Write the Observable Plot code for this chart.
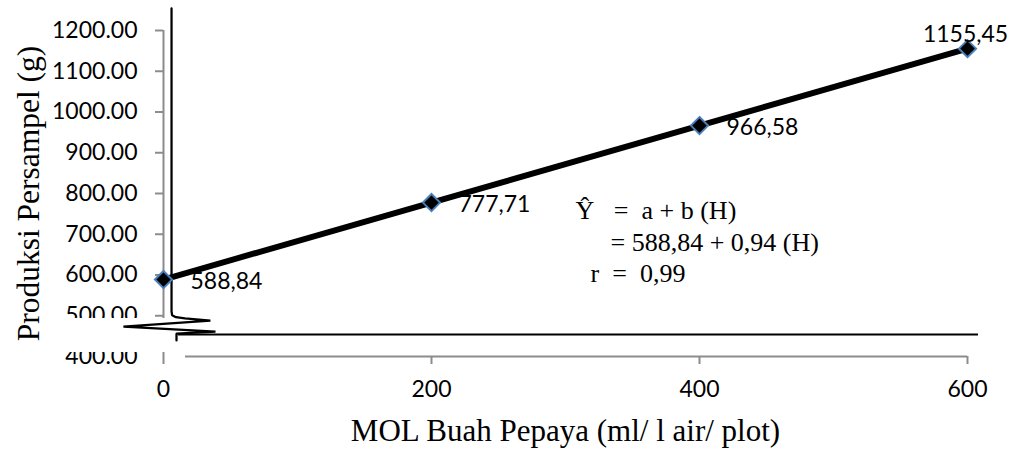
<!DOCTYPE html>
<html>
<head>
<meta charset="utf-8">
<script src="https://cdn.jsdelivr.net/npm/d3@7"></script>
<script src="https://cdn.jsdelivr.net/npm/@observablehq/plot@0.6"></script>
<style>
  html, body { margin: 0; padding: 0; background: #fff; }
  #chart svg { display: block; overflow: visible; }
</style>
</head>
<body>
<div id="chart"></div>
<script>
// ---- data ----
const doses = [0, 200, 400, 600];                       // MOL Buah Pepaya (ml/ l air/ plot)
const production = [588.84, 777.71, 966.58, 1155.45];   // Produksi Persampel (g)
const pointLabels = ["588,84", "777,71", "966,58", "1155,45"];
const xTicks = [0, 200, 400, 600];
const yTicks = [400, 500, 600, 700, 800, 900, 1000, 1100, 1200];
const equationLines = ["Ŷ\u00a0\u00a0 =\u00a0 a + b (H)", "= 588,84 + 0,94 (H)", "r\u00a0 =\u00a0 0,99"];
const xTitle = "MOL Buah Pepaya (ml/ l air/ plot)";
const yTitle = "Produksi Persampel (g)";

// ---- annotation / decoration geometry (data units) ----
const eqX = [307.5, 333.6, 318.7];
const eqY = [758.3, 679.8, 603.7];
const breakX = [6.0, 6.0, 6.4, 9.3, 16.0, 35.0, -29.9, 38.8, 9.7, 9.7];
const breakY = [1254, 511, 501.5, 496.5, 493.5, 488.3, 473.6, 461.3, 456.4, 439.3];

const points = doses.map((x, i) => ({x, y: production[i], label: pointLabels[i]}));
const breakPath = breakX.map((x, i) => ({x, y: breakY[i]}));
const eq = equationLines.map((t, i) => ({t, x: eqX[i], y: eqY[i]}));

const gray = "#8c8c8c";
const sans = "Lato, 'Open Sans', sans-serif";
const serif = "'Liberation Serif', 'DejaVu Serif', serif";

const chart = Plot.plot({
  width: 1016,
  height: 450,
  marginLeft: 163,
  marginRight: 49,
  marginTop: 30,
  marginBottom: 94,
  x: {domain: [0, 600], label: null},
  y: {domain: [400, 1200], label: null},
  style: {fontFamily: sans, background: "white", color: "black"},
  marks: [
    // axis lines
    Plot.ruleX([0], {y1: 400, y2: 1200, stroke: gray, strokeWidth: 2}),
    Plot.ruleY([400], {x1: 16.4, x2: 600, stroke: gray, strokeWidth: 2}),
    // y axis ticks + labels
    Plot.axisY(yTicks.slice(1), {anchor: "left", tickSize: 8, tickPadding: 18, tickFormat: d3.format(".2f"),
      fontSize: 23, stroke: gray, strokeWidth: 2, fill: "black", label: null}),
    Plot.axisY(yTicks.slice(0, 1), {anchor: "left", tickSize: 0, tickPadding: 26, tickFormat: d3.format(".2f"),
      fontSize: 23, fill: "black", label: null}),
    // x axis ticks + labels
    Plot.axisX(xTicks, {anchor: "bottom", tickSize: 8, tickPadding: 16, tickFormat: d3.format("d"),
      fontSize: 23, stroke: gray, strokeWidth: 2, fill: "black", label: null}),
    // white cover for the axis break
    Plot.rect([0], {x1: -92, x2: 16.4, y1: 409.8, y2: 493.3, fill: "white"}),
    // axis break drawing
    Plot.line(breakPath, {x: "x", y: "y", stroke: "black", strokeWidth: 2.25, strokeLinejoin: "miter"}),
    Plot.ruleY([454], {x1: 11.2, x2: 608.2, stroke: "black", strokeWidth: 2}),
    // titles
    Plot.text([yTitle], {text: d => d, frameAnchor: "left", rotate: -90, dx: -135, textAnchor: "middle",
      lineAnchor: "middle", fontFamily: serif, fontSize: 31.5, fill: "black"}),
    Plot.text([xTitle], {text: d => d, frameAnchor: "bottom", dy: 75, textAnchor: "middle",
      lineAnchor: "middle", fontFamily: serif, fontSize: 31, fill: "black"}),
    // regression equation
    Plot.text(eq, {x: "x", y: "y", text: "t", textAnchor: "start", lineAnchor: "middle",
      fontFamily: serif, fontSize: 26, fill: "black"}),
    // data
    Plot.line(points, {x: "x", y: "y", stroke: "black", strokeWidth: 6}),
    Plot.dot(points, {x: "x", y: "y", symbol: "diamond2", r: 7.7, fill: "black", stroke: "#4a7ebb", strokeWidth: 2}),
    Plot.text(points.slice(0, 3), {x: "x", y: "y", text: "label", dx: 27, dy: 2, textAnchor: "start",
      lineAnchor: "middle", fontSize: 23, fill: "black"}),
    Plot.text(points.slice(3), {x: "x", y: "y", text: "label", dx: -2, dy: -14, textAnchor: "middle",
      lineAnchor: "middle", fontSize: 23, fill: "black"})
  ]
});
document.getElementById("chart").appendChild(chart);
</script>
</body>
</html>
